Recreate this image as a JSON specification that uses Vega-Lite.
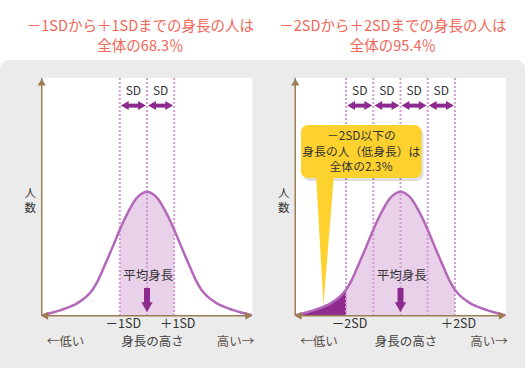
{
  "$schema": "https://vega.github.io/schema/vega-lite/v6.json",
  "width": 530,
  "height": 368,
  "autosize": {"type": "fit", "contains": "padding"},
  "padding": 0,
  "background": "#ffffff",
  "config": {"view": {"stroke": null}, "font": "Noto Sans CJK JP", "text": {"font": "Noto Sans CJK JP"}},
  "datasets": {
    "curve": [
      {"x": -3.86, "y": 0.5}, {"x": -3.8, "y": 0.8}, {"x": -3.6, "y": 1.9}, {"x": -3.4, "y": 3.1},
      {"x": -3.2, "y": 4.4}, {"x": -3.0, "y": 6.0}, {"x": -2.8, "y": 7.7}, {"x": -2.6, "y": 9.7},
      {"x": -2.4, "y": 12.5}, {"x": -2.2, "y": 16.1}, {"x": -2.0, "y": 21.0}, {"x": -1.8, "y": 28.6},
      {"x": -1.6, "y": 38.3}, {"x": -1.4, "y": 48.4}, {"x": -1.2, "y": 58.9}, {"x": -1.0, "y": 69.4},
      {"x": -0.8, "y": 79.0}, {"x": -0.6, "y": 87.5}, {"x": -0.4, "y": 94.4}, {"x": -0.2, "y": 98.4},
      {"x": 0, "y": 100},
      {"x": 0.2, "y": 98.4}, {"x": 0.4, "y": 94.4}, {"x": 0.6, "y": 87.5}, {"x": 0.8, "y": 79.0},
      {"x": 1.0, "y": 69.4}, {"x": 1.2, "y": 58.9}, {"x": 1.4, "y": 48.4}, {"x": 1.6, "y": 38.3},
      {"x": 1.8, "y": 28.6}, {"x": 2.0, "y": 21.0}, {"x": 2.2, "y": 16.1}, {"x": 2.4, "y": 12.5},
      {"x": 2.6, "y": 9.7}, {"x": 2.8, "y": 7.7}, {"x": 3.0, "y": 6.0}, {"x": 3.2, "y": 4.4},
      {"x": 3.4, "y": 3.1}, {"x": 3.6, "y": 1.9}, {"x": 3.8, "y": 0.8}, {"x": 3.86, "y": 0.5}
    ],
    "bg": [{"x": -5.404, "x2": 13.897, "y": 206.2, "y2": -42}],
    "plot": [{"x": -3.87, "x2": 3.87, "y": 191.7, "y2": 0}],
    "titleL": [
      {"x": -0.24, "y": 232.4, "t": "－1SDから＋1SDまでの身長の人は"},
      {"x": -0.24, "y": 216.8, "t": "全体の68.3％"}
    ],
    "titleR": [
      {"x": -0.28, "y": 232.4, "t": "－2SDから＋2SDまでの身長の人は"},
      {"x": -0.28, "y": 216.8, "t": "全体の95.4％"}
    ],
    "vL": [{"x": -1, "y": 191.7, "y2": 0}, {"x": 0, "y": 191.7, "y2": 0}, {"x": 1, "y": 191.7, "y2": 0}],
    "vR": [{"x": -2, "y": 191.7, "y2": 0}, {"x": -1, "y": 191.7, "y2": 0}, {"x": 0, "y": 191.7, "y2": 0}, {"x": 1, "y": 191.7, "y2": 0}, {"x": 2, "y": 191.7, "y2": 0}],
    "sdL": [{"x": -1, "x2": 0, "y": 169.4}, {"x": 0, "x2": 1, "y": 169.4}],
    "sdR": [{"x": -2, "x2": -1, "y": 169.4}, {"x": -1, "x2": 0, "y": 169.4}, {"x": 0, "x2": 1, "y": 169.4}, {"x": 1, "x2": 2, "y": 169.4}],
    "sdLabL": [{"x": -0.5, "y": 181.5, "t": "SD"}, {"x": 0.5, "y": 181.5, "t": "SD"}],
    "sdLabR": [{"x": -1.5, "y": 181.5, "t": "SD"}, {"x": -0.5, "y": 181.5, "t": "SD"}, {"x": 0.5, "y": 181.5, "t": "SD"}, {"x": 1.5, "y": 181.5, "t": "SD"}],
    "yaxis": [{"x": -3.87, "y": 0, "y2": 191.7}],
    "xaxis": [{"x": -3.91, "x2": 3.89, "y": 0}],
    "meanArrow": [{"x": 0, "y": 22.5, "y2": 2.5}],
    "meanLabel": [{"x": 0.05, "y": 32.0, "t": "平均身長"}],
    "sdTicksL": [{"x": -1, "y": -6.5, "t": "－1SD"}, {"x": 1, "y": -6.5, "t": "＋1SD"}],
    "sdTicksR": [{"x": -2, "y": -6.5, "t": "－2SD"}, {"x": 2, "y": -6.5, "t": "＋2SD"}],
    "ends": [{"x": -3.0, "y": -20.8, "t": "←低い"}, {"x": 3.25, "y": -20.8, "t": "高い→"}],
    "center": [{"x": 0.2, "y": -20.8, "t": "身長の高さ"}],
    "ninzu": [{"x": -4.29, "y": 98.5, "t": "人"}, {"x": -4.29, "y": 86.0, "t": "数"}],
    "box": [{"x": -3.66, "x2": 0.77, "y": 153.8, "y2": 111.1}],
    "tail": [{"y": 114, "x": -3.107, "x2": -2.445}, {"y": 8.8, "x": -2.831, "x2": -2.831}],
    "boxText": [
      {"x": -1.44, "y": 144.7, "t": "－2SD以下の"},
      {"x": -1.44, "y": 132.3, "t": "身長の人（低身長）は"},
      {"x": -1.44, "y": 119.9, "t": "全体の2.3％"}
    ]
  },
  "encoding": {
    "y": {"field": "y", "type": "quantitative", "scale": {"domain": [-42, 254.5], "nice": false, "zero": false}, "axis": null}
  },
  "resolve": {"scale": {"x": "independent"}},
  "layer": [
    {
      "encoding": {
        "x": {"field": "x", "type": "quantitative", "scale": {"domain": [-5.404, 14.081], "nice": false, "zero": false}, "axis": null}
      },
      "layer": [
        {"data": {"name": "bg"}, "mark": {"type": "rect", "color": "#ebebeb", "cornerRadiusTopLeft": 9, "cornerRadiusTopRight": 9}, "encoding": {"x2": {"field": "x2"}, "y2": {"field": "y2"}}},
        {"data": {"name": "titleL"}, "mark": {"type": "text", "color": "#f0675a", "fontSize": 14.5, "align": "center", "baseline": "middle"}, "encoding": {"text": {"field": "t"}}},
        {"data": {"name": "plot"}, "mark": {"type": "rect", "color": "#ffffff"}, "encoding": {"x2": {"field": "x2"}, "y2": {"field": "y2"}}},
        {"data": {"name": "curve"}, "transform": [{"filter": "datum.x >= -1 && datum.x <= 1"}], "mark": {"type": "area", "color": "#e9d1e9", "opacity": 1, "interpolate": "monotone"}, "encoding": {"y2": {"datum": 0}}},
        {"data": {"name": "vL"}, "mark": {"type": "rule", "color": "#d29bd6", "strokeWidth": 2, "strokeDash": [2, 2]}, "encoding": {"y2": {"field": "y2"}}},
        {"data": {"name": "curve"}, "mark": {"type": "line", "color": "#b468b9", "strokeWidth": 2.5, "interpolate": "monotone"}, "encoding": {}},
        {"data": {"name": "yaxis"}, "mark": {"type": "rule", "color": "#9c7d52", "strokeWidth": 1.5}, "encoding": {"y2": {"field": "y2"}}},
        {"data": {"name": "yaxis"}, "mark": {"type": "point", "shape": "triangle-up", "filled": true, "size": 64, "color": "#9c7d52", "opacity": 1, "yOffset": 4}, "encoding": {"y": {"field": "y2", "type": "quantitative", "scale": {"domain": [-42, 254.5], "nice": false, "zero": false}, "axis": null}}},
        {"data": {"name": "xaxis"}, "mark": {"type": "rule", "color": "#9c7d52", "strokeWidth": 1.5, "xOffset": 4, "x2Offset": -4}, "encoding": {"x2": {"field": "x2"}}},
        {"data": {"name": "xaxis"}, "mark": {"type": "point", "shape": "triangle-left", "filled": true, "size": 64, "color": "#9c7d52", "opacity": 1, "xOffset": 4}, "encoding": {}},
        {"data": {"name": "xaxis"}, "mark": {"type": "point", "shape": "triangle-right", "filled": true, "size": 64, "color": "#9c7d52", "opacity": 1, "xOffset": -4}, "encoding": {"x": {"field": "x2", "type": "quantitative", "scale": {"domain": [-5.404, 14.081], "nice": false, "zero": false}, "axis": null}}},
        {"data": {"name": "sdL"}, "mark": {"type": "rule", "color": "#8c2a8e", "strokeWidth": 4, "xOffset": 6, "x2Offset": -6}, "encoding": {"x2": {"field": "x2"}}},
        {"data": {"name": "sdL"}, "mark": {"type": "point", "shape": "triangle-left", "filled": true, "size": 81, "color": "#8c2a8e", "opacity": 1, "xOffset": 5}, "encoding": {}},
        {"data": {"name": "sdL"}, "mark": {"type": "point", "shape": "triangle-right", "filled": true, "size": 81, "color": "#8c2a8e", "opacity": 1, "xOffset": -5}, "encoding": {"x": {"field": "x2", "type": "quantitative", "scale": {"domain": [-5.404, 14.081], "nice": false, "zero": false}, "axis": null}}},
        {"data": {"name": "sdLabL"}, "mark": {"type": "text", "color": "#333333", "fontSize": 12, "align": "center", "baseline": "middle"}, "encoding": {"text": {"field": "t"}}},
        {"data": {"name": "meanArrow"}, "mark": {"type": "rule", "color": "#8c2a8e", "strokeWidth": 6, "y2Offset": -9}, "encoding": {"y2": {"field": "y2"}}},
        {"data": {"name": "meanArrow"}, "mark": {"type": "point", "shape": "triangle-down", "filled": true, "size": 130, "color": "#8c2a8e", "opacity": 1, "yOffset": -5.7}, "encoding": {"y": {"field": "y2", "type": "quantitative", "scale": {"domain": [-42, 254.5], "nice": false, "zero": false}, "axis": null}}},
        {"data": {"name": "meanLabel"}, "mark": {"type": "text", "color": "#333333", "fontSize": 12.5, "align": "center", "baseline": "middle"}, "encoding": {"text": {"field": "t"}}},
        {"data": {"name": "sdTicksL"}, "mark": {"type": "text", "color": "#333333", "fontSize": 12.5, "align": "center", "baseline": "middle", "dx": 3.5}, "encoding": {"text": {"field": "t"}}},
        {"data": {"name": "ends"}, "mark": {"type": "text", "color": "#5c5048", "fontSize": 12.5, "align": "center", "baseline": "middle"}, "encoding": {"text": {"field": "t"}}},
        {"data": {"name": "center"}, "mark": {"type": "text", "color": "#3f3f3f", "fontSize": 12.5, "align": "center", "baseline": "middle"}, "encoding": {"text": {"field": "t"}}},
        {"data": {"name": "ninzu"}, "mark": {"type": "text", "color": "#333333", "fontSize": 11.5, "align": "center", "baseline": "middle"}, "encoding": {"text": {"field": "t"}}}
      ]
    },
    {
      "encoding": {
        "x": {"field": "x", "type": "quantitative", "scale": {"domain": [-14.724, 4.761], "nice": false, "zero": false}, "axis": null}
      },
      "layer": [
        {"data": {"name": "titleR"}, "mark": {"type": "text", "color": "#f0675a", "fontSize": 14.5, "align": "center", "baseline": "middle"}, "encoding": {"text": {"field": "t"}}},
        {"data": {"name": "plot"}, "mark": {"type": "rect", "color": "#ffffff"}, "encoding": {"x2": {"field": "x2"}, "y2": {"field": "y2"}}},
        {"data": {"name": "curve"}, "transform": [{"filter": "datum.x >= -2 && datum.x <= 2"}], "mark": {"type": "area", "color": "#e9d1e9", "opacity": 1, "interpolate": "monotone"}, "encoding": {"y2": {"datum": 0}}},
        {"data": {"name": "curve"}, "transform": [{"filter": "datum.x <= -2"}], "mark": {"type": "area", "color": "#8f2b8f", "opacity": 1, "interpolate": "monotone"}, "encoding": {"y2": {"datum": 0}}},
        {"data": {"name": "vR"}, "mark": {"type": "rule", "color": "#d29bd6", "strokeWidth": 2, "strokeDash": [2, 2]}, "encoding": {"y2": {"field": "y2"}}},
        {"data": {"name": "curve"}, "mark": {"type": "line", "color": "#b468b9", "strokeWidth": 2.5, "interpolate": "monotone"}, "encoding": {}},
        {"data": {"name": "yaxis"}, "mark": {"type": "rule", "color": "#9c7d52", "strokeWidth": 1.5}, "encoding": {"y2": {"field": "y2"}}},
        {"data": {"name": "yaxis"}, "mark": {"type": "point", "shape": "triangle-up", "filled": true, "size": 64, "color": "#9c7d52", "opacity": 1, "yOffset": 4}, "encoding": {"y": {"field": "y2", "type": "quantitative", "scale": {"domain": [-42, 254.5], "nice": false, "zero": false}, "axis": null}}},
        {"data": {"name": "xaxis"}, "mark": {"type": "rule", "color": "#9c7d52", "strokeWidth": 1.5, "xOffset": 4, "x2Offset": -4}, "encoding": {"x2": {"field": "x2"}}},
        {"data": {"name": "xaxis"}, "mark": {"type": "point", "shape": "triangle-left", "filled": true, "size": 64, "color": "#9c7d52", "opacity": 1, "xOffset": 4}, "encoding": {}},
        {"data": {"name": "xaxis"}, "mark": {"type": "point", "shape": "triangle-right", "filled": true, "size": 64, "color": "#9c7d52", "opacity": 1, "xOffset": -4}, "encoding": {"x": {"field": "x2", "type": "quantitative", "scale": {"domain": [-14.724, 4.761], "nice": false, "zero": false}, "axis": null}}},
        {"data": {"name": "sdR"}, "mark": {"type": "rule", "color": "#8c2a8e", "strokeWidth": 4, "xOffset": 6, "x2Offset": -6}, "encoding": {"x2": {"field": "x2"}}},
        {"data": {"name": "sdR"}, "mark": {"type": "point", "shape": "triangle-left", "filled": true, "size": 81, "color": "#8c2a8e", "opacity": 1, "xOffset": 5}, "encoding": {}},
        {"data": {"name": "sdR"}, "mark": {"type": "point", "shape": "triangle-right", "filled": true, "size": 81, "color": "#8c2a8e", "opacity": 1, "xOffset": -5}, "encoding": {"x": {"field": "x2", "type": "quantitative", "scale": {"domain": [-14.724, 4.761], "nice": false, "zero": false}, "axis": null}}},
        {"data": {"name": "sdLabR"}, "mark": {"type": "text", "color": "#333333", "fontSize": 12, "align": "center", "baseline": "middle"}, "encoding": {"text": {"field": "t"}}},
        {"data": {"name": "meanArrow"}, "mark": {"type": "rule", "color": "#8c2a8e", "strokeWidth": 6, "y2Offset": -9}, "encoding": {"y2": {"field": "y2"}}},
        {"data": {"name": "meanArrow"}, "mark": {"type": "point", "shape": "triangle-down", "filled": true, "size": 130, "color": "#8c2a8e", "opacity": 1, "yOffset": -5.7}, "encoding": {"y": {"field": "y2", "type": "quantitative", "scale": {"domain": [-42, 254.5], "nice": false, "zero": false}, "axis": null}}},
        {"data": {"name": "meanLabel"}, "mark": {"type": "text", "color": "#333333", "fontSize": 12.5, "align": "center", "baseline": "middle"}, "encoding": {"text": {"field": "t"}}},
        {"data": {"name": "sdTicksR"}, "mark": {"type": "text", "color": "#333333", "fontSize": 12.5, "align": "center", "baseline": "middle", "dx": 3.5}, "encoding": {"text": {"field": "t"}}},
        {"data": {"name": "ends"}, "mark": {"type": "text", "color": "#5c5048", "fontSize": 12.5, "align": "center", "baseline": "middle"}, "encoding": {"text": {"field": "t"}}},
        {"data": {"name": "center"}, "mark": {"type": "text", "color": "#3f3f3f", "fontSize": 12.5, "align": "center", "baseline": "middle"}, "encoding": {"text": {"field": "t"}}},
        {"data": {"name": "ninzu"}, "mark": {"type": "text", "color": "#333333", "fontSize": 11.5, "align": "center", "baseline": "middle"}, "encoding": {"text": {"field": "t"}}},
        {"data": {"name": "box"}, "mark": {"type": "rect", "color": "#000000", "opacity": 0.13, "cornerRadius": 7, "xOffset": 2, "x2Offset": 2, "yOffset": 3, "y2Offset": 3}, "encoding": {"x2": {"field": "x2"}, "y2": {"field": "y2"}}},
        {"data": {"name": "tail"}, "mark": {"type": "area", "orient": "horizontal", "color": "#fdd22f", "opacity": 1}, "encoding": {"x2": {"field": "x2"}}},
        {"data": {"name": "box"}, "mark": {"type": "rect", "color": "#fdd22f", "opacity": 1, "cornerRadius": 7}, "encoding": {"x2": {"field": "x2"}, "y2": {"field": "y2"}}},
        {"data": {"name": "boxText"}, "mark": {"type": "text", "color": "#333333", "fontSize": 11.8, "align": "center", "baseline": "middle"}, "encoding": {"text": {"field": "t"}}}
      ]
    }
  ]
}
